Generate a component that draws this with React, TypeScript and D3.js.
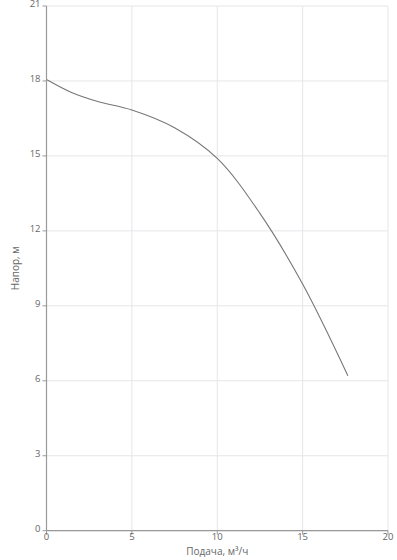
import React from "react";
import * as d3 from "d3";

const flow = [0, 1.5, 3, 5, 7.5, 10, 12.5, 15, 17.65];
const head = [18.06, 17.53, 17.18, 16.84, 16.13, 14.9, 12.7, 9.87, 6.2];
const xTicks = [0, 5, 10, 15, 20];
const yTicks = [0, 3, 6, 9, 12, 15, 18, 21];
const xTitle = "Подача, м³/ч";
const yTitle = "Напор, м";

export default function App() {
  const W = 397, H = 560;
  const left = 46.5, right = 388, top = 6, bottom = 530.7;
  const x = d3.scaleLinear().domain([0, 20]).range([left, right]);
  const y = d3.scaleLinear().domain([0, 21]).range([bottom, top]);
  const pts = flow.map((f, i) => [f, head[i]] as [number, number]);
  const line = d3.line<[number, number]>().x(d => x(d[0])).y(d => y(d[1])).curve(d3.curveCatmullRom.alpha(0.5));
  const font = "'Open Sans', sans-serif";
  return (
    <svg width={W} height={H} style={{ position: "absolute", left: 0, top: 0 }}>
      <rect width={W} height={H} fill="#fff" />
      {xTicks.map(t => (
        <line key={"gx" + t} x1={x(t)} x2={x(t)} y1={top} y2={bottom} stroke="#e6e6ea" strokeWidth={1} />
      ))}
      {yTicks.map(t => (
        <line key={"gy" + t} x1={left} x2={right} y1={y(t)} y2={y(t)} stroke="#e6e6ea" strokeWidth={1} />
      ))}
      <path d={line(pts) || ""} fill="none" stroke="#777" strokeWidth={1.1} />
      <line x1={left} x2={left} y1={top} y2={bottom} stroke="#999" strokeWidth={1.2} />
      <line x1={left} x2={right} y1={bottom} y2={bottom} stroke="#999" strokeWidth={1.2} />
      {yTicks.map(t => (
        <g key={"ty" + t}>
          <line x1={left - 4} x2={left} y1={y(t)} y2={y(t)} stroke="#999" />
          <text x={left - 6} y={y(t)} dy="0.1em" textAnchor="end" fontSize={9.5} fill="#666" fontFamily={font}>{t}</text>
        </g>
      ))}
      {xTicks.map(t => (
        <g key={"tx" + t}>
          <line x1={x(t)} x2={x(t)} y1={bottom} y2={bottom + 4} stroke="#999" />
          <text x={x(t)} y={bottom + 9} textAnchor="middle" fontSize={9.5} fill="#666" fontFamily={font}>{t}</text>
        </g>
      ))}
      <text x={(left + right) / 2} y={bottom + 24} textAnchor="middle" fontSize={10} fill="#666" fontFamily={font}>{xTitle}</text>
      <text transform={`translate(19,${(top + bottom) / 2}) rotate(-90)`} textAnchor="middle" fontSize={10} fill="#666" fontFamily={font}>{yTitle}</text>
    </svg>
  );
}
